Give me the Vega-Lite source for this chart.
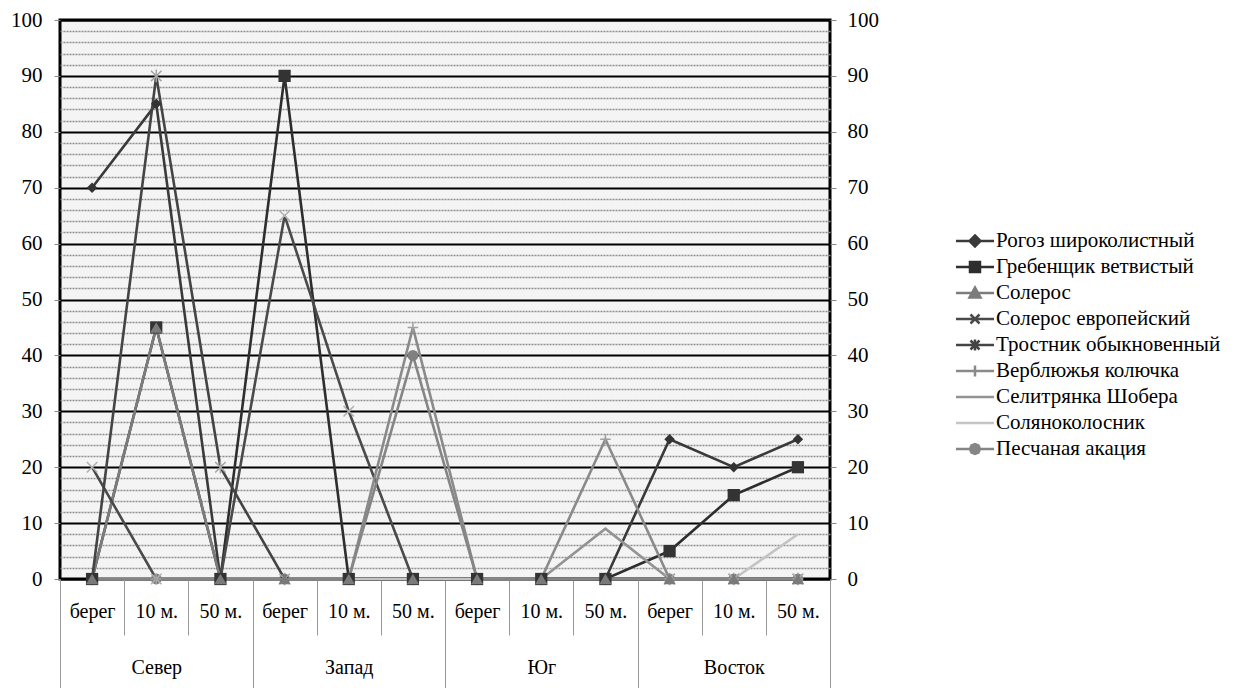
{
  "$schema": "https://vega.github.io/schema/vega-lite/v6.json",
  "width": 770,
  "height": 559,
  "autosize": {"type": "none"},
  "padding": {"left": 60, "top": 20, "right": 404, "bottom": 109},
  "background": "white",
  "config": {
    "view": {"fill": "#f4f4f4", "stroke": "black", "strokeWidth": 3},
    "font": "Liberation Serif",
    "axis": {"labelFont": "Liberation Serif", "labelFontSize": 21, "labelColor": "black"}
  },
  "datasets": {
    "d": [
      {"s": "Рогоз широколистный", "k": "Север|берег", "v": 70},
      {"s": "Рогоз широколистный", "k": "Север|10 м.", "v": 85},
      {"s": "Рогоз широколистный", "k": "Север|50 м.", "v": 0},
      {"s": "Рогоз широколистный", "k": "Запад|берег", "v": 0},
      {"s": "Рогоз широколистный", "k": "Запад|10 м.", "v": 0},
      {"s": "Рогоз широколистный", "k": "Запад|50 м.", "v": 0},
      {"s": "Рогоз широколистный", "k": "Юг|берег", "v": 0},
      {"s": "Рогоз широколистный", "k": "Юг|10 м.", "v": 0},
      {"s": "Рогоз широколистный", "k": "Юг|50 м.", "v": 0},
      {"s": "Рогоз широколистный", "k": "Восток|берег", "v": 25},
      {"s": "Рогоз широколистный", "k": "Восток|10 м.", "v": 20},
      {"s": "Рогоз широколистный", "k": "Восток|50 м.", "v": 25},
      {"s": "Гребенщик ветвистый", "k": "Север|берег", "v": 0},
      {"s": "Гребенщик ветвистый", "k": "Север|10 м.", "v": 45},
      {"s": "Гребенщик ветвистый", "k": "Север|50 м.", "v": 0},
      {"s": "Гребенщик ветвистый", "k": "Запад|берег", "v": 90},
      {"s": "Гребенщик ветвистый", "k": "Запад|10 м.", "v": 0},
      {"s": "Гребенщик ветвистый", "k": "Запад|50 м.", "v": 0},
      {"s": "Гребенщик ветвистый", "k": "Юг|берег", "v": 0},
      {"s": "Гребенщик ветвистый", "k": "Юг|10 м.", "v": 0},
      {"s": "Гребенщик ветвистый", "k": "Юг|50 м.", "v": 0},
      {"s": "Гребенщик ветвистый", "k": "Восток|берег", "v": 5},
      {"s": "Гребенщик ветвистый", "k": "Восток|10 м.", "v": 15},
      {"s": "Гребенщик ветвистый", "k": "Восток|50 м.", "v": 20},
      {"s": "Солерос", "k": "Север|берег", "v": 0},
      {"s": "Солерос", "k": "Север|10 м.", "v": 45},
      {"s": "Солерос", "k": "Север|50 м.", "v": 0},
      {"s": "Солерос", "k": "Запад|берег", "v": 0},
      {"s": "Солерос", "k": "Запад|10 м.", "v": 0},
      {"s": "Солерос", "k": "Запад|50 м.", "v": 0},
      {"s": "Солерос", "k": "Юг|берег", "v": 0},
      {"s": "Солерос", "k": "Юг|10 м.", "v": 0},
      {"s": "Солерос", "k": "Юг|50 м.", "v": 0},
      {"s": "Солерос", "k": "Восток|берег", "v": 0},
      {"s": "Солерос", "k": "Восток|10 м.", "v": 0},
      {"s": "Солерос", "k": "Восток|50 м.", "v": 0},
      {"s": "Солерос европейский", "k": "Север|берег", "v": 20},
      {"s": "Солерос европейский", "k": "Север|10 м.", "v": 0},
      {"s": "Солерос европейский", "k": "Север|50 м.", "v": 0},
      {"s": "Солерос европейский", "k": "Запад|берег", "v": 65},
      {"s": "Солерос европейский", "k": "Запад|10 м.", "v": 30},
      {"s": "Солерос европейский", "k": "Запад|50 м.", "v": 0},
      {"s": "Солерос европейский", "k": "Юг|берег", "v": 0},
      {"s": "Солерос европейский", "k": "Юг|10 м.", "v": 0},
      {"s": "Солерос европейский", "k": "Юг|50 м.", "v": 0},
      {"s": "Солерос европейский", "k": "Восток|берег", "v": 0},
      {"s": "Солерос европейский", "k": "Восток|10 м.", "v": 0},
      {"s": "Солерос европейский", "k": "Восток|50 м.", "v": 0},
      {"s": "Тростник обыкновенный", "k": "Север|берег", "v": 0},
      {"s": "Тростник обыкновенный", "k": "Север|10 м.", "v": 90},
      {"s": "Тростник обыкновенный", "k": "Север|50 м.", "v": 20},
      {"s": "Тростник обыкновенный", "k": "Запад|берег", "v": 0},
      {"s": "Тростник обыкновенный", "k": "Запад|10 м.", "v": 0},
      {"s": "Тростник обыкновенный", "k": "Запад|50 м.", "v": 0},
      {"s": "Тростник обыкновенный", "k": "Юг|берег", "v": 0},
      {"s": "Тростник обыкновенный", "k": "Юг|10 м.", "v": 0},
      {"s": "Тростник обыкновенный", "k": "Юг|50 м.", "v": 0},
      {"s": "Тростник обыкновенный", "k": "Восток|берег", "v": 0},
      {"s": "Тростник обыкновенный", "k": "Восток|10 м.", "v": 0},
      {"s": "Тростник обыкновенный", "k": "Восток|50 м.", "v": 0},
      {"s": "Верблюжья колючка", "k": "Север|берег", "v": 0},
      {"s": "Верблюжья колючка", "k": "Север|10 м.", "v": 0},
      {"s": "Верблюжья колючка", "k": "Север|50 м.", "v": 0},
      {"s": "Верблюжья колючка", "k": "Запад|берег", "v": 0},
      {"s": "Верблюжья колючка", "k": "Запад|10 м.", "v": 0},
      {"s": "Верблюжья колючка", "k": "Запад|50 м.", "v": 45},
      {"s": "Верблюжья колючка", "k": "Юг|берег", "v": 0},
      {"s": "Верблюжья колючка", "k": "Юг|10 м.", "v": 0},
      {"s": "Верблюжья колючка", "k": "Юг|50 м.", "v": 25},
      {"s": "Верблюжья колючка", "k": "Восток|берег", "v": 0},
      {"s": "Верблюжья колючка", "k": "Восток|10 м.", "v": 0},
      {"s": "Верблюжья колючка", "k": "Восток|50 м.", "v": 0},
      {"s": "Селитрянка Шобера", "k": "Север|берег", "v": 0},
      {"s": "Селитрянка Шобера", "k": "Север|10 м.", "v": 0},
      {"s": "Селитрянка Шобера", "k": "Север|50 м.", "v": 0},
      {"s": "Селитрянка Шобера", "k": "Запад|берег", "v": 0},
      {"s": "Селитрянка Шобера", "k": "Запад|10 м.", "v": 0},
      {"s": "Селитрянка Шобера", "k": "Запад|50 м.", "v": 0},
      {"s": "Селитрянка Шобера", "k": "Юг|берег", "v": 0},
      {"s": "Селитрянка Шобера", "k": "Юг|10 м.", "v": 0},
      {"s": "Селитрянка Шобера", "k": "Юг|50 м.", "v": 9},
      {"s": "Селитрянка Шобера", "k": "Восток|берег", "v": 0},
      {"s": "Селитрянка Шобера", "k": "Восток|10 м.", "v": 0},
      {"s": "Селитрянка Шобера", "k": "Восток|50 м.", "v": 0},
      {"s": "Соляноколосник", "k": "Север|берег", "v": 0},
      {"s": "Соляноколосник", "k": "Север|10 м.", "v": 0},
      {"s": "Соляноколосник", "k": "Север|50 м.", "v": 0},
      {"s": "Соляноколосник", "k": "Запад|берег", "v": 0},
      {"s": "Соляноколосник", "k": "Запад|10 м.", "v": 0},
      {"s": "Соляноколосник", "k": "Запад|50 м.", "v": 0},
      {"s": "Соляноколосник", "k": "Юг|берег", "v": 0},
      {"s": "Соляноколосник", "k": "Юг|10 м.", "v": 0},
      {"s": "Соляноколосник", "k": "Юг|50 м.", "v": 0},
      {"s": "Соляноколосник", "k": "Восток|берег", "v": 0},
      {"s": "Соляноколосник", "k": "Восток|10 м.", "v": 0},
      {"s": "Соляноколосник", "k": "Восток|50 м.", "v": 8},
      {"s": "Песчаная акация", "k": "Север|берег", "v": 0},
      {"s": "Песчаная акация", "k": "Север|10 м.", "v": 0},
      {"s": "Песчаная акация", "k": "Север|50 м.", "v": 0},
      {"s": "Песчаная акация", "k": "Запад|берег", "v": 0},
      {"s": "Песчаная акация", "k": "Запад|10 м.", "v": 0},
      {"s": "Песчаная акация", "k": "Запад|50 м.", "v": 40},
      {"s": "Песчаная акация", "k": "Юг|берег", "v": 0},
      {"s": "Песчаная акация", "k": "Юг|10 м.", "v": 0},
      {"s": "Песчаная акация", "k": "Юг|50 м.", "v": 0},
      {"s": "Песчаная акация", "k": "Восток|берег", "v": 0},
      {"s": "Песчаная акация", "k": "Восток|10 м.", "v": 0},
      {"s": "Песчаная акация", "k": "Восток|50 м.", "v": 0}
    ]
  },
  "data": {"name": "d"},
  "layer": [
    {
      "encoding": {
        "x": {
          "field": "k",
          "type": "nominal",
          "sort": ["Север|берег", "Север|10 м.", "Север|50 м.", "Запад|берег", "Запад|10 м.", "Запад|50 м.", "Юг|берег", "Юг|10 м.", "Юг|50 м.", "Восток|берег", "Восток|10 м.", "Восток|50 м."],
          "scale": {"type": "band", "paddingInner": 0, "paddingOuter": 0},
          "title": null,
          "axis": {
            "orient": "bottom",
            "domain": false,
            "grid": false,
            "labelAngle": 0,
            "labelOverlap": false,
            "labelBound": false,
            "labelFlush": false,
            "tickBand": "extent",
            "tickColor": "#9a9a9a",
            "tickWidth": 1,
            "tickSize": 110,
            "tickDash": {"condition": {"test": "!isString(datum.value) || indexof(datum.value,'50 м.')>=0", "value": []}, "value": [56, 200]},
            "labelPadding": -88,
            "labelExpr": "indexof(''+datum.value,'10 м.')>=0 ? [split(''+datum.value,'|')[1], split(''+datum.value,'|')[0]] : split(''+datum.value,'|')[1]",
            "labelLineHeight": 56,
            "labelFontSize": 20,
            "labelBaseline": "top"
          }
        }
      },
      "layer": [
        {
          "mark": {"type": "line", "strokeWidth": 2.6},
          "encoding": {
            "y": {
              "field": "v", "type": "quantitative",
              "scale": {"domain": [0, 100], "nice": false},
              "axis": {
                "orient": "left", "title": null, "domain": false,
                "values": [0,2,4,6,8,10,12,14,16,18,20,22,24,26,28,30,32,34,36,38,40,42,44,46,48,50,52,54,56,58,60,62,64,66,68,70,72,74,76,78,80,82,84,86,88,90,92,94,96,98,100],
                "grid": true,
                "gridColor": {"condition": {"test": "datum.value % 10 == 0", "value": "black"}, "value": "#8f8f8f"},
                "gridWidth": {"condition": {"test": "datum.value % 10 == 0", "value": 2.2}, "value": 1.5},
                "gridDash": {"condition": {"test": "datum.value % 10 == 0", "value": []}, "value": [2, 1]},
                "tickSize": 6,
                "tickColor": "#888",
                "tickOpacity": {"condition": {"test": "datum.value % 10 == 0", "value": 1}, "value": 0},
                "labelExpr": "datum.value % 10 == 0 ? datum.label : ''",
                "labelPadding": 12
              }
            },
            "color": {
              "field": "s", "type": "nominal", "legend": null,
              "scale": {
                "domain": ["Рогоз широколистный", "Гребенщик ветвистый", "Солерос", "Солерос европейский", "Тростник обыкновенный", "Верблюжья колючка", "Селитрянка Шобера", "Соляноколосник", "Песчаная акация"],
                "range": ["#3a3a3a", "#2e2e2e", "#7c7c7c", "#4a4a4a", "#444444", "#8a8a8a", "#939393", "#c4c4c4", "#858585"]
              }
            }
          }
        },
        {
          "transform": [{"filter": {"field": "s", "equal": "Песчаная акация"}}],
          "mark": {"type": "point", "shape": "circle", "filled": true, "size": 120, "color": "#808080", "opacity": 1},
          "encoding": {"y": {"field": "v", "type": "quantitative", "axis": null}}
        },
        {
          "transform": [{"filter": {"field": "s", "equal": "Рогоз широколистный"}}],
          "mark": {"type": "point", "shape": "diamond", "filled": true, "size": 110, "color": "#333333", "opacity": 1},
          "encoding": {"y": {"field": "v", "type": "quantitative", "axis": null}}
        },
        {
          "transform": [{"filter": {"field": "s", "equal": "Солерос европейский"}}],
          "mark": {"type": "point", "shape": "M-1,-1L1,1M-1,1L1,-1", "filled": false, "size": 110, "strokeWidth": 1.5, "color": "#b0b0b0", "opacity": 1},
          "encoding": {"y": {"field": "v", "type": "quantitative", "axis": null}}
        },
        {
          "transform": [{"filter": {"field": "s", "equal": "Тростник обыкновенный"}}],
          "mark": {"type": "point", "shape": "M-1,-1L1,1M-1,1L1,-1M0,-1.2L0,1.2", "filled": false, "size": 110, "strokeWidth": 1.5, "color": "#a5a5a5", "opacity": 1},
          "encoding": {"y": {"field": "v", "type": "quantitative", "axis": null}}
        },
        {
          "transform": [{"filter": {"field": "s", "equal": "Верблюжья колючка"}}],
          "mark": {"type": "point", "shape": "M-1,0L1,0M0,-1L0,1", "filled": false, "size": 110, "strokeWidth": 1.5, "color": "#a0a0a0", "opacity": 1},
          "encoding": {"y": {"field": "v", "type": "quantitative", "axis": null}}
        },
        {
          "transform": [{"filter": {"field": "s", "equal": "Гребенщик ветвистый"}}],
          "mark": {"type": "point", "shape": "square", "filled": true, "size": 150, "color": "#333333", "opacity": 1},
          "encoding": {"y": {"field": "v", "type": "quantitative", "axis": null}}
        },
        {
          "transform": [{"filter": {"field": "s", "equal": "Солерос"}}],
          "mark": {"type": "point", "shape": "triangle-up", "filled": true, "size": 150, "color": "#7a7a7a", "opacity": 1},
          "encoding": {"y": {"field": "v", "type": "quantitative", "axis": null}}
        },
        {
          "transform": [{"filter": {"field": "k", "equal": "Север|берег"}}],
          "mark": {"type": "point", "opacity": 0},
          "encoding": {
            "y": {
              "field": "v", "type": "quantitative",
              "axis": {
                "orient": "right", "title": null, "domain": false, "grid": false,
                "values": [0,10,20,30,40,50,60,70,80,90,100],
                "tickSize": 6, "tickColor": "#888", "labelPadding": 11
              }
            }
          }
        }
      ],
      "resolve": {"axis": {"y": "independent"}}
    },
    {
      "transform": [{"filter": {"field": "k", "equal": "Север|берег"}}],
      "encoding": {
        "y": {
          "field": "s", "type": "nominal",
          "sort": ["Рогоз широколистный", "Гребенщик ветвистый", "Солерос", "Солерос европейский", "Тростник обыкновенный", "Верблюжья колючка", "Селитрянка Шобера", "Соляноколосник", "Песчаная акация"],
          "scale": {"type": "point", "padding": 0, "range": [221, 429]},
          "axis": null
        }
      },
      "layer": [
        {
          "mark": {"type": "point", "filled": true, "size": 400, "strokeWidth": 2.5, "opacity": 1},
          "encoding": {
            "x": {"datum": 1.1883, "type": "quantitative", "scale": {"domain": [0, 1], "zero": false, "nice": false}, "axis": null},
            "fill": {
              "field": "s", "type": "nominal", "legend": null,
              "scale": {
                "domain": ["Рогоз широколистный", "Гребенщик ветвистый", "Солерос", "Солерос европейский", "Тростник обыкновенный", "Верблюжья колючка", "Селитрянка Шобера", "Соляноколосник", "Песчаная акация"],
                "range": ["#3a3a3a", "#2e2e2e", "#7c7c7c", "#4a4a4a", "#444444", "#8a8a8a", "#939393", "#c4c4c4", "#858585"]
              }
            },
            "stroke": {
              "field": "s", "type": "nominal", "legend": null,
              "scale": {
                "domain": ["Рогоз широколистный", "Гребенщик ветвистый", "Солерос", "Солерос европейский", "Тростник обыкновенный", "Верблюжья колючка", "Селитрянка Шобера", "Соляноколосник", "Песчаная акация"],
                "range": ["#3a3a3a", "#2e2e2e", "#7c7c7c", "#4a4a4a", "#444444", "#8a8a8a", "#939393", "#c4c4c4", "#858585"]
              }
            },
            "shape": {
              "field": "s", "type": "nominal", "legend": null,
              "scale": {
                "domain": ["Рогоз широколистный", "Гребенщик ветвистый", "Солерос", "Солерос европейский", "Тростник обыкновенный", "Верблюжья колючка", "Селитрянка Шобера", "Соляноколосник", "Песчаная акация"],
                "range": [
                  "M-1.9,0L1.9,0M0,-0.55L0.55,0L0,0.55L-0.55,0Z",
                  "M-1.9,0L1.9,0M-0.5,-0.5L0.5,-0.5L0.5,0.5L-0.5,0.5Z",
                  "M-1.9,0L1.9,0M0,-0.55L0.55,0.45L-0.55,0.45Z",
                  "M-1.9,0L1.9,0M-0.45,-0.45L0.45,0.45M-0.45,0.45L0.45,-0.45",
                  "M-1.9,0L1.9,0M-0.45,-0.45L0.45,0.45M-0.45,0.45L0.45,-0.45M0,-0.55L0,0.55",
                  "M-1.9,0L1.9,0M0,-0.55L0,0.55",
                  "M-1.9,0L1.9,0",
                  "M-1.9,0L1.9,0",
                  "M-1.9,0L1.9,0M0.5,0L0.35,0.35L0,0.5L-0.35,0.35L-0.5,0L-0.35,-0.35L0,-0.5L0.35,-0.35Z"
                ]
              }
            }
          }
        },
        {
          "mark": {"type": "text", "align": "left", "baseline": "middle", "font": "Liberation Serif", "fontSize": 21, "color": "black"},
          "encoding": {
            "x": {"datum": 1.2156, "type": "quantitative", "scale": {"domain": [0, 1], "zero": false, "nice": false}, "axis": null},
            "text": {"field": "s", "type": "nominal"}
          }
        }
      ]
    }
  ],
  "resolve": {"scale": {"x": "independent", "y": "independent"}}
}
